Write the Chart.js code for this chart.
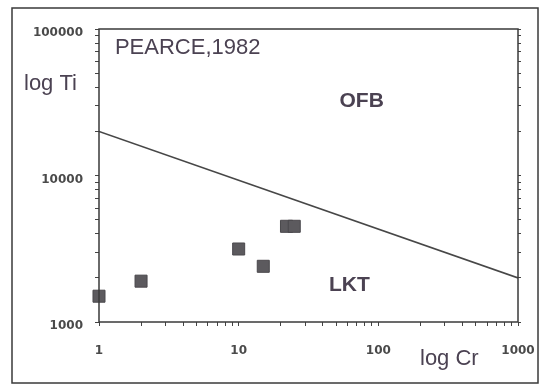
<!DOCTYPE html>
<html>
<head>
<meta charset="utf-8">
<script src="https://cdn.jsdelivr.net/npm/chart.js@4/dist/chart.umd.min.js"></script>
<style>
  body { margin: 0; background: #ffffff; }
  #wrap { width: 539px; height: 387px; position: relative; }
</style>
</head>
<body>
<div id="wrap"><canvas id="pearce" width="539" height="387"></canvas></div>
<script>
// samples: Cr (x) vs Ti (y), both log
const crValues = [1, 2, 10, 15, 22, 25];
const tiValues = [1500, 1900, 3150, 2400, 4500, 4500];

// OFB / LKT boundary line
const lineCr = [1, 1000];
const lineTi = [20000, 2000];

// axis ranges and labelled ticks
const xMajor = [1, 10, 100, 1000];
const yMajor = [1000, 10000, 100000];

// field labels (data coords)
const fieldLabels = ['OFB', 'LKT'];
const fieldCr = [76, 62];
const fieldTi = [32000, 1790];

const textColor = '#4b4252';

// minor + major ticks for a log axis
function logTicks(lo, hi) {
    const out = [];
    for (let d = lo; d < hi; d *= 10) {
        for (let m = 1; m < 10; m++) out.push({ value: d * m });
    }
    out.push({ value: hi });
    return out;
}

const annotate = {
    id: 'annotate',
    beforeDraw(chart) {
        const c = chart.ctx;
        c.save();
        c.strokeStyle = '#3a3a3a';
        c.lineWidth = 1.5;
        c.strokeRect(12, 8, 526, 375);      // outer frame
        c.restore();
    },
    afterDraw(chart) {
        const c = chart.ctx;
        const xs = chart.scales.x, ys = chart.scales.y;
        const a = chart.chartArea;
        c.save();
        // plot frame
        c.strokeStyle = '#3a3a3a';
        c.lineWidth = 1.5;
        c.strokeRect(a.left, a.top, a.right - a.left, a.bottom - a.top);

        c.fillStyle = textColor;
        c.textBaseline = 'middle';
        c.textAlign = 'center';
        c.font = 'bold 21px "Liberation Sans", Arial, sans-serif';
        fieldLabels.forEach((t, i) => {
            c.fillText(t, xs.getPixelForValue(fieldCr[i]), ys.getPixelForValue(fieldTi[i]));
        });

        c.textAlign = 'left';
        c.font = '22px "Liberation Sans", Arial, sans-serif';
        c.fillText('PEARCE,1982', xs.getPixelForValue(1.3), ys.getPixelForValue(74000));

        // axis titles
        c.font = '22px "Liberation Sans", Arial, sans-serif';
        c.fillText('log Ti', 24, 84);
        c.fillText('log Cr', 420, 359);
        c.restore();
    }
};

function createChart() {
    const ctx = document.getElementById('pearce');
    Chart.defaults.font.family = '"DejaVu Sans", sans-serif';

    const tickFont = { size: 12, weight: 'bold' };

    new Chart(ctx, {
        type: 'scatter',
        data: {
            datasets: [
                {
                    label: 'boundary',
                    data: lineCr.map((x, i) => ({ x: x, y: lineTi[i] })),
                    showLine: true,
                    borderColor: '#474747',
                    borderWidth: 1.6,
                    pointRadius: 0,
                    fill: false
                },
                {
                    label: 'samples',
                    data: crValues.map((x, i) => ({ x: x, y: tiValues[i] })),
                    pointStyle: 'rect',
                    pointRadius: 8.5,
                    backgroundColor: '#5c5a5e',
                    borderColor: '#4a484c',
                    borderWidth: 1,
                    clip: false
                }
            ]
        },
        options: {
            responsive: false,
            animation: false,
            devicePixelRatio: 1,
            layout: { padding: { top: 29, left: 0, right: 0, bottom: 0 } },
            plugins: {
                legend: { display: false },
                tooltip: { enabled: false }
            },
            scales: {
                x: {
                    type: 'logarithmic',
                    position: 'bottom',
                    min: 1,
                    max: 1000,
                    afterBuildTicks: s => { s.ticks = logTicks(1, 1000); },
                    afterFit: s => { s.height = 65; s.paddingLeft = 0; s.paddingRight = 0; },
                    border: { display: false },
                    grid: { drawOnChartArea: false, drawTicks: true, tickLength: 4, color: '#444', lineWidth: 1 },
                    ticks: {
                        autoSkip: false,
                        maxRotation: 0,
                        minRotation: 0,
                        padding: 18,
                        color: '#4a4a4a',
                        font: tickFont,
                        callback: v => xMajor.includes(v) ? String(v) : ''
                    }
                },
                y: {
                    type: 'logarithmic',
                    position: 'left',
                    min: 1000,
                    max: 100000,
                    afterBuildTicks: s => { s.ticks = logTicks(1000, 100000); },
                    afterFit: s => { s.width = 99; s.paddingTop = 0; s.paddingBottom = 0; },
                    border: { display: false },
                    grid: { drawOnChartArea: false, drawTicks: true, tickLength: 4, color: '#444', lineWidth: 1 },
                    ticks: {
                        autoSkip: false,
                        padding: 12,
                        labelOffset: 4,
                        color: '#4a4a4a',
                        font: tickFont,
                        callback: v => yMajor.includes(v) ? String(v) : ''
                    }
                },
                y2: {
                    type: 'logarithmic',
                    position: 'right',
                    min: 1000,
                    max: 100000,
                    afterBuildTicks: s => { s.ticks = logTicks(1000, 100000); },
                    afterFit: s => { s.width = 21; s.paddingTop = 0; s.paddingBottom = 0; },
                    border: { display: false },
                    grid: { drawOnChartArea: false, drawTicks: true, tickLength: 3, color: '#444', lineWidth: 1 },
                    ticks: { display: false }
                }
            }
        },
        plugins: [annotate]
    });
}

createChart();
</script>
</body>
</html>
